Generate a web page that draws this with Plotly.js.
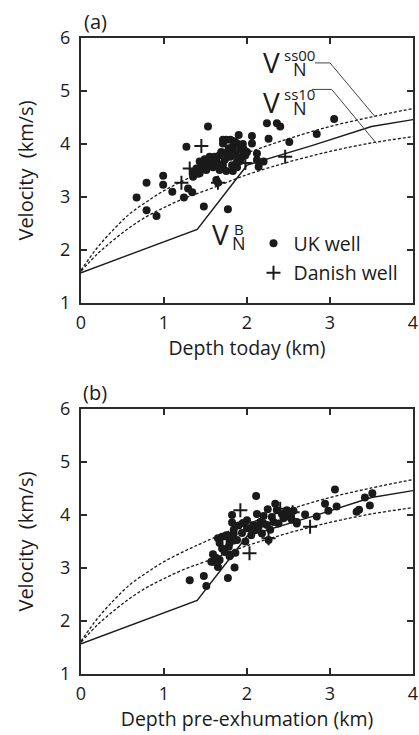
<!DOCTYPE html>
<html><head><meta charset="utf-8">
<script src="https://cdn.plot.ly/plotly-3.0.1.min.js"></script>
<style>html,body{margin:0;padding:0;background:#fff}#chart{width:419px;height:735px}</style>
</head><body><div id="chart"></div>
<script>
// Model curves
const depthVNB = [0, 1.4, 2.0, 2.8, 3.5, 4.0];
const velVNB   = [1.57, 2.39, 3.60, 3.98, 4.33, 4.46];
const depthSS00 = [0, 0.2, 0.4, 0.6, 0.8, 1.0, 1.25, 1.5, 2.0, 2.5, 3.0, 3.5, 4.0];
const velSS00   = [1.62, 2.05, 2.40, 2.70, 2.92, 3.12, 3.32, 3.50, 3.83, 4.10, 4.33, 4.51, 4.67];
const depthSS10 = [0, 0.2, 0.4, 0.6, 0.8, 1.0, 1.25, 1.5, 2.0, 2.5, 3.0, 3.5, 4.0];
const velSS10   = [1.60, 1.93, 2.20, 2.44, 2.64, 2.80, 2.98, 3.12, 3.42, 3.66, 3.86, 4.02, 4.14];

// Panel (a): depth today
const ukDepthA = [0.67,0.79,0.79,0.91,0.99,0.99,1.10,1.24,1.29,1.34,1.48,1.77,1.63,1.27,1.53,1.35,1.39,1.41,1.43,1.49,
  1.51,1.55,1.57,1.61,1.63,1.67,1.69,1.71,1.71,1.75,1.75,1.80,1.83,1.88,1.92,1.80,1.94,1.82,1.71,1.59,
  1.90,2.06,2.06,2.12,2.14,2.12,2.20,2.26,2.24,2.40,2.51,2.84,3.05,1.43,1.51,1.59,1.67,1.75,1.83,1.88,
  1.92,1.35,1.98,1.88,1.83,1.65,1.45,1.78,1.86,1.96,1.73,1.66,1.54,1.85,1.95,2.00,2.36];
const ukVelA = [2.99,3.27,2.75,2.64,3.40,3.23,3.10,2.99,3.16,3.09,2.82,2.77,3.32,3.95,4.33,3.38,3.54,3.44,3.67,3.71,
  3.60,3.76,3.64,3.76,3.69,3.79,3.85,4.01,4.08,4.08,3.83,4.08,3.89,4.01,3.89,3.76,3.76,3.60,3.60,3.70,
  4.17,4.15,4.01,3.70,3.57,3.82,3.67,4.10,4.39,4.33,4.04,4.19,4.47,3.45,3.51,3.56,3.51,3.49,3.49,3.56,
  3.68,3.47,3.79,3.67,3.95,3.27,3.57,3.92,3.80,3.90,3.70,3.62,3.66,4.05,4.00,3.85,4.39];
const dkDepthA = [1.45, 1.21, 1.31, 1.65, 1.98, 2.46];
const dkVelA   = [3.96, 3.27, 3.54, 3.27, 3.64, 3.76];

// Panel (b): depth pre-exhumation
const ukDepthB = [1.31,1.48,1.51,1.77,1.85,1.65,1.59,1.67,1.59,1.70,1.79,1.73,1.65,1.79,1.80,1.84,1.98,1.70,1.75,1.84,
  1.88,1.76,1.82,1.82,2.11,2.12,2.20,2.25,2.34,2.36,2.42,2.48,2.56,2.53,2.70,2.60,2.84,2.94,2.98,3.08,
  3.06,3.32,3.35,3.42,3.51,3.48,1.84,2.08,2.16,2.24,2.32,2.44,2.50,2.54,2.60,2.03,2.10,2.18,2.26,1.78,
  1.67,1.80,2.00,1.94,2.05,2.14,2.28,2.20,2.38,2.30,1.86,1.57,1.63,1.90,2.00,1.95];
const ukVelB = [2.77,2.85,2.66,2.81,3.01,3.02,3.12,3.15,3.26,3.37,3.22,3.30,3.56,3.47,3.61,3.52,3.50,3.59,3.62,3.65,
  3.53,3.59,4.00,3.86,4.36,4.02,3.98,4.11,4.21,4.09,4.02,4.09,4.08,3.98,4.01,3.84,3.97,4.21,4.08,4.16,
  4.48,4.06,4.10,4.33,4.41,4.18,3.72,3.81,3.87,3.81,3.87,3.94,3.97,3.91,3.87,3.75,3.72,3.65,3.53,3.40,
  3.47,3.25,3.75,3.66,3.62,3.78,3.72,3.84,3.84,3.96,3.29,3.12,3.19,3.80,3.90,3.85];
const dkDepthB = [1.92, 2.03, 2.26, 2.76, 2.40, 2.55];
const dkVelB   = [4.09, 3.28, 3.56, 3.78, 4.12, 4.05];

const ink = '#1a1a1a';
const font = 'Open Sans, Noto Sans, sans-serif';
const dotMarker = {symbol:'circle', size:8, color:ink};
const crossMarker = {symbol:'cross-thin', size:10, line:{width:2, color:ink}};

function panelTraces(xa, ya, ukX, ukY, dkX, dkY, legend) {
  return [
    {x:depthSS00, y:velSS00, xaxis:xa, yaxis:ya, mode:'lines', line:{shape:'spline', color:ink, width:1.3, dash:'3px,2px'}, showlegend:false, hoverinfo:'skip'},
    {x:depthSS10, y:velSS10, xaxis:xa, yaxis:ya, mode:'lines', line:{shape:'spline', color:ink, width:1.3, dash:'3px,2px'}, showlegend:false, hoverinfo:'skip'},
    {x:depthVNB, y:velVNB, xaxis:xa, yaxis:ya, mode:'lines', line:{color:ink, width:1.4}, showlegend:false, hoverinfo:'skip'},
    {x:ukX, y:ukY, xaxis:xa, yaxis:ya, mode:'markers', name:'UK well', marker:dotMarker, showlegend:legend, legendgroup:'uk'},
    {x:dkX, y:dkY, xaxis:xa, yaxis:ya, mode:'markers', name:'Danish well', marker:crossMarker, showlegend:legend, legendgroup:'dk'}
  ];
}

const data = [].concat(
  panelTraces('x','y', ukDepthA, ukVelA, dkDepthA, dkVelA, true),
  panelTraces('x2','y2', ukDepthB, ukVelB, dkDepthB, dkVelB, false)
);

const axisStyle = {
  showline:true, linecolor:'#2a2a2a', linewidth:2, mirror:'ticks',
  ticks:'inside', ticklen:6, tickwidth:1.5, tickcolor:'#2a2a2a',
  showgrid:false, zeroline:false, automargin:false,
  tickfont:{size:18, color:ink, family:font}, fixedrange:true
};
const xdom = [81/419, 413/419];
function xa(title, anchor) {
  return Object.assign({}, axisStyle, {domain:xdom, range:[0,4], tickvals:[0,1,2,3,4], anchor:anchor,
    ticklabelstandoff:2,
    title:{text:title, font:{size:19.5, color:ink, family:font}, standoff:3}});
}
function ya(dom, anchor) {
  return Object.assign({}, axisStyle, {domain:dom, range:[1,6], tickvals:[1,2,3,4,5,6], anchor:anchor,
    ticklabelstandoff:5,
    title:{text:'Velocity\u00a0 (km/s)', font:{size:20, color:ink, family:font}, standoff:21}});
}

const lab = (text, x, y, size, xanchor) => ({text:text, x:x, y:y, xref:'x', yref:'y', showarrow:false, borderpad:0,
  xanchor:xanchor||'left', yanchor:'middle', font:{size:size, color:ink, family:font}});
const supSub = (sup, sub) => '<span style="font-size:15px">' + sup + '</span><br><span style="font-size:18px">' + sub + '</span>';

const layout = {
  width:419, height:735, margin:{l:0, r:0, t:0, b:0},
  paper_bgcolor:'#fff', plot_bgcolor:'#fff', font:{family:font, color:ink},
  xaxis: xa('Depth today (km)', 'y'),
  yaxis: ya([1-303/735, 1-38/735], 'x'),
  xaxis2: xa('Depth pre-exhumation (km)', 'y2'),
  yaxis2: ya([1-674/735, 1-409/735], 'x2'),
  showlegend:true,
  legend:{x:0.605, y:0.695, xanchor:'left', yanchor:'top', font:{size:19.5, color:ink, family:font},
    bgcolor:'rgba(0,0,0,0)', tracegroupgap:1, itemclick:false},
  annotations:[
    {text:'(a)', x:95/419, y:1-21/735, xref:'paper', yref:'paper', showarrow:false, xanchor:'center', yanchor:'middle', font:{size:20, color:ink, family:font}},
    {text:'(b)', x:95/419, y:1-392/735, xref:'paper', yref:'paper', showarrow:false, xanchor:'center', yanchor:'middle', font:{size:20, color:ink, family:font}},
    lab('V', 2.41, 5.55, 28, 'right'), lab(supSub('ss00','N'), 2.43, 5.52, 11.5),
    lab('V', 2.41, 4.79, 28, 'right'), lab(supSub('ss10','N'), 2.43, 4.80, 11.5),
    lab('V', 1.79, 2.30, 28, 'right'), lab(supSub('B','N'), 1.81, 2.24, 11.5)
  ],
  shapes:[
    {type:'path', xref:'x', yref:'y', path:'M 2.82 5.53 L 3.0 5.53 L 3.54 4.52', line:{color:'#444', width:1}},
    {type:'path', xref:'x', yref:'y', path:'M 2.78 5.03 L 3.02 5.03 L 3.56 4.01', line:{color:'#444', width:1}}
  ]
};

Plotly.newPlot('chart', data, layout, {staticPlot:true, displayModeBar:false});
</script>
</body></html>
